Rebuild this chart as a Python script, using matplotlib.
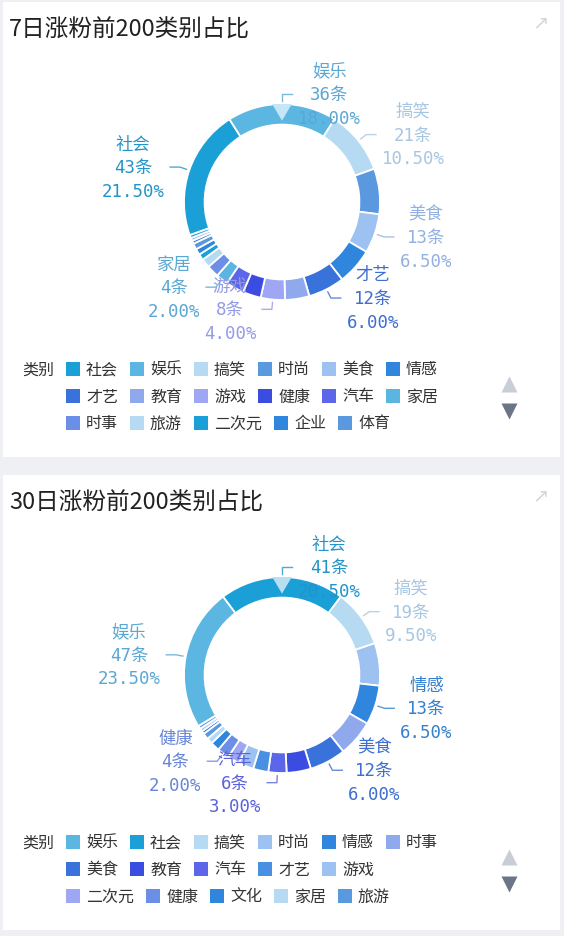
import matplotlib
matplotlib.use('Agg')
import matplotlib.pyplot as plt
from matplotlib.patches import Rectangle, Polygon
from matplotlib.colors import to_rgb
import numpy as np

plt.rcParams['font.family'] = ['Noto Sans CJK SC', 'DejaVu Sans']

W, H = 564, 937
R = 98  # outer ring radius in px

# ---- 7日 ----
title7 = '7日涨粉前200类别占比'
names7 = ['社会', '娱乐', '搞笑', '时尚', '美食', '情感', '才艺', '教育', '游戏',
          '健康', '汽车', '家居', '时事', '旅游', '二次元', '企业', '体育']
counts7 = [43, 36, 21, 15, 13, 12, 12, 8, 8, 6, 6, 4, 4, 3, 2, 2, 2]
colors7 = ['#1a9fd6', '#5cb6e2', '#b5daf2', '#5a98e0', '#9dc1f0', '#2f86dc',
           '#3a72dc', '#8fa9ec', '#9fa6f4', '#3a4de0', '#5c66e8', '#5ab6e0',
           '#6b8fe6', '#b5daf2', '#1a9fd6', '#2f86dc', '#5a98e0']
extra7 = [1, 1, 1]  # legend page 2, names not visible
extra_colors7 = ['#3a72dc', '#9dc1f0', '#1a9fd6']
labeled7 = ['社会', '娱乐', '搞笑', '美食', '才艺', '游戏', '家居']

# ---- 30日 ----
title30 = '30日涨粉前200类别占比'
names30 = ['娱乐', '社会', '搞笑', '时尚', '情感', '时事', '美食', '教育', '汽车',
           '才艺', '游戏', '二次元', '健康', '文化', '家居', '旅游']
counts30 = [47, 41, 19, 14, 13, 12, 12, 8, 6, 5, 5, 4, 4, 3, 2, 2]
colors30 = ['#5cb6e2', '#1a9fd6', '#b5daf2', '#9dc1f0', '#2f86dc', '#8fa9ec',
            '#3a72dc', '#3a4de0', '#5c66e8', '#4a90e2', '#9dc1f0', '#9fa6f4',
            '#6b8fe6', '#2f86dc', '#b5daf2', '#5a98e0']
extra30 = [1, 1, 1]
extra_colors30 = ['#3a72dc', '#9dc1f0', '#5a98e0']
labeled30 = ['娱乐', '社会', '搞笑', '情感', '美食', '汽车', '健康']

fig = plt.figure(figsize=(W / 100, H / 100), dpi=100, facecolor='#eef0f4')
ov = fig.add_axes([0, 0, 1, 1])
ov.set_xlim(0, W)
ov.set_ylim(H, 0)
ov.axis('off')


def label_color(c):
    # labels are a touch duller than the slice
    r, g, b = to_rgb(c)
    return (r * 0.85 + 0.05, g * 0.85 + 0.05, b * 0.85 + 0.08)


def draw_card(top, title, names, counts, colors, extra, extra_colors, labeled, tri_color):
    card_h = 455
    ov.add_patch(Rectangle((3, top), 557, card_h, facecolor='white', edgecolor='none', zorder=0))
    ov.text(9, top + 27, title, fontsize=17, color='#222222', va='center')
    ov.text(540, top + 20, '↗', fontsize=14, color='#d3d6dc', ha='center', va='center',
            family='DejaVu Sans')

    # donut
    cx, cy = 282, top + 200
    L = 2.3
    ax = fig.add_axes([(cx - L * R) / W, 1 - (cy + L * R) / H, 2 * L * R / W, 2 * L * R / H])
    vals = counts + extra
    cols = colors + extra_colors
    k = 360 / sum(vals)
    start = 90 + counts[1] * k / 2 + counts[0] * k
    wedges, _ = ax.pie(vals, colors=cols, startangle=start, counterclock=False, radius=1,
                       wedgeprops=dict(width=0.21, edgecolor='white', linewidth=1.3))
    ax.set_xlim(-L, L)
    ax.set_ylim(-L, L)
    ax.axis('off')
    ax.add_patch(Polygon([(-0.1, 1.0), (0.1, 1.0), (0, 0.83)], closed=True,
                         facecolor=tri_color, edgecolor='none', zorder=7))

    total = sum(vals)
    for w, n, v, c in zip(wedges, names, counts, colors):
        if n not in labeled:
            continue
        lc = label_color(c)
        th = np.deg2rad((w.theta1 + w.theta2) / 2)
        side = 1 if np.cos(th) >= -1e-6 else -1
        x1, y1 = 1.03 * np.cos(th), 1.03 * np.sin(th)
        x2, y2 = 1.1 * np.cos(th), 1.1 * np.sin(th)
        x3 = x2 + 0.1 * side
        ax.plot([x1, x2, x3], [y1, y2, y2], color=lc, lw=1, alpha=0.8, clip_on=False)
        ax.text(x3 + 0.06 * side, y2, f'{n}\n{v}条\n{v / total * 100:.2f}%',
                ha='left' if side > 0 else 'right', va='center', multialignment='center',
                fontsize=12.5, color=lc, linespacing=1.4,
                family=['DejaVu Sans Mono', 'Noto Sans CJK SC'], clip_on=False, zorder=6)

    # legend
    ly = top + 367
    ov.text(22, ly, '类别', fontsize=11.5, color='#333333', va='center')
    x, row = 66, 0
    for n, c in zip(names, colors):
        w = 20 + len(n) * 16
        if x + w > 446:
            x, row = 66, row + 1
        y = ly + row * 27
        ov.add_patch(Rectangle((x, y - 7), 14, 14, facecolor=c, edgecolor='none'))
        ov.text(x + 20, y, n, fontsize=11.5, color='#333333', va='center')
        x += w + 12
    ov.plot(509, top + 382, marker='^', ms=11, color='#c9cdd6', mec='none')
    ov.plot(509, top + 409, marker='v', ms=11, color='#6b7587', mec='none')


draw_card(3, title7, names7, counts7, colors7, extra7, extra_colors7, labeled7, '#c5e6f6')
draw_card(476, title30, names30, counts30, colors30, extra30, extra_colors30, labeled30, '#b8def2')

fig.savefig('out.png', dpi=100, facecolor=fig.get_facecolor())
